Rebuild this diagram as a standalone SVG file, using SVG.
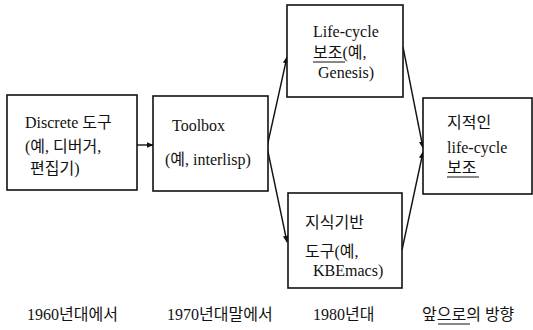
<svg xmlns="http://www.w3.org/2000/svg" width="533" height="330" viewBox="0 0 533 330">
<style>
.box{fill:#fff;stroke:#111;stroke-width:1.6}
.t{font-family:"Liberation Serif","Noto Sans CJK KR",serif;font-size:16px;fill:#111}
.c{stroke:#111;stroke-width:1.4;fill:none}
.u{stroke:#111;stroke-width:1}
</style>
<defs>
<marker id="ah" viewBox="0 0 10 10" refX="9" refY="5" markerWidth="7" markerHeight="7" markerUnits="userSpaceOnUse" orient="auto">
<path d="M0,1 L10,5 L0,9 Z" fill="#111"/>
</marker>
</defs>
<rect width="533" height="330" fill="#fff"/>
<g id="connectors">
<line class="c" x1="137" y1="145" x2="153" y2="145" marker-end="url(#ah)"/>
<line class="c" x1="267" y1="147" x2="287" y2="57" marker-end="url(#ah)"/>
<line class="c" x1="267" y1="147" x2="287" y2="242" marker-end="url(#ah)"/>
<line class="c" x1="403" y1="47" x2="423" y2="148" marker-end="url(#ah)"/>
<line class="c" x1="402" y1="250" x2="423" y2="152" marker-end="url(#ah)"/>
</g>
<g id="discrete">
<rect class="box" x="7" y="95" width="130" height="95"/>
<text class="t" x="25" y="128">Discrete 도구</text>
<text class="t" x="25" y="152">(예, 디버거,</text>
<text class="t" x="30" y="174">편집기)</text>
</g>
<g id="toolbox">
<rect class="box" x="153" y="96" width="115" height="95"/>
<text class="t" x="172" y="131">Toolbox</text>
<text class="t" x="165" y="165">(예, interlisp)</text>
</g>
<g id="lifecycle">
<rect class="box" x="287" y="5" width="116" height="92"/>
<text class="t" x="313" y="37">Life-cycle</text>
<text class="t" x="313" y="58">보조(예,</text>
<line class="u" x1="313" y1="62" x2="345" y2="62"/>
<text class="t" x="318" y="78">Genesis)</text>
</g>
<g id="kbemacs">
<rect class="box" x="288" y="193" width="114" height="95"/>
<text class="t" x="305" y="228">지식기반</text>
<text class="t" x="305" y="257">도구(예,</text>
<text class="t" x="313" y="276">KBEmacs)</text>
</g>
<g id="future">
<rect class="box" x="423" y="98" width="109" height="96"/>
<text class="t" x="447" y="128">지적인</text>
<text class="t" x="447" y="153">life-cycle</text>
<text class="t" x="447" y="173">보조</text>
<line class="u" x1="447" y1="177" x2="479" y2="177"/>
</g>
<g id="labels">
<text class="t" x="27" y="320">1960년대에서</text>
<text class="t" x="167" y="320">1970년대말에서</text>
<text class="t" x="313" y="320">1980년대</text>
<text class="t" x="422" y="320">앞으로의 방향</text>
<line class="u" x1="438" y1="324" x2="470" y2="324"/>
</g>
</svg>
